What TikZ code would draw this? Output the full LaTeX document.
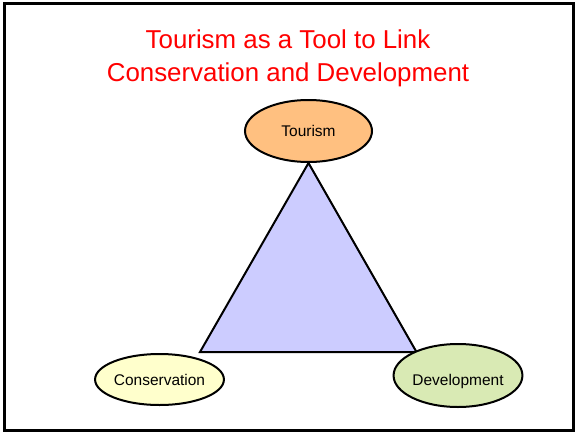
\documentclass[tikz,border=0pt]{standalone}
\usepackage{fontspec}
\setmainfont{Liberation Sans}
\usetikzlibrary{shapes.geometric, backgrounds}

\definecolor{tourfill}{RGB}{255,192,128}
\definecolor{consfill}{RGB}{255,255,204}
\definecolor{devfill}{RGB}{217,234,180}
\definecolor{trifill}{RGB}{204,204,255}

\tikzset{
    goal/.style={ellipse, draw, line width=1.5pt, inner sep=0pt,
            font=\fontsize{11.6pt}{14pt}\selectfont},
    title/.style={text=red, align=center, font=\fontsize{19.4pt}{24.75pt}\selectfont}
}

\begin{document}
\begin{tikzpicture}[x=0.75pt, y=-0.75pt]
        \useasboundingbox (0,0) rectangle (575,432);

        % Draw the frame
        \draw[line width=2.25pt] (4.5,3.5) rectangle (573.5,430.5);

        % Title
        \node[title, anchor=base] (head) at (288,81) {Tourism as a Tool to Link\\Conservation and Development};

        % Place the three ellipses
        \node[goal, fill=tourfill, minimum width=95.25pt, minimum height=46.5pt] (tourism) at (308.5,131) {Tourism};
        \node[goal, fill=consfill, minimum width=93.75pt, minimum height=38.25pt] (conservation) at (159.5,379.5) {Conservation};
        \node[goal, fill=devfill, minimum width=94.5pt, minimum height=47.25pt,
            text height=14.3pt, text depth=0pt] (development) at (458,375.5) {Development};

        % Draw the triangle behind them
        \coordinate (left) at (200,352);
        \coordinate (right) at (416.5,352);
        \begin{scope}[on background layer]
            \filldraw[fill=trifill, line width=1.5pt, line join=miter] (tourism.south) -- (left) -- (right) -- cycle;
        \end{scope}
\end{tikzpicture}
\end{document}
